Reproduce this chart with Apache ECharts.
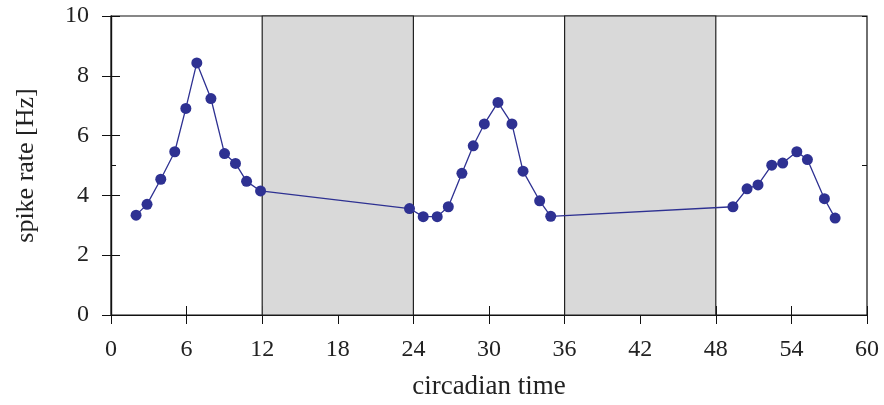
<!DOCTYPE html>
<html>
<head>
<meta charset="utf-8">
<script src="https://cdn.jsdelivr.net/npm/echarts@6/dist/echarts.min.js"></script>
<style>html,body{margin:0;padding:0;background:#fff;}#c{width:884px;height:405px;}</style>
</head>
<body>
<div id="c"></div>
<script>
// circadian time (hours) and spike rate (Hz)
var hours = [1.99, 2.86, 3.95, 5.06, 5.94, 6.81, 7.93, 9.01, 9.88, 10.76, 11.87,
             23.69, 24.78, 25.89, 26.77, 27.85, 28.75, 29.63, 30.71, 31.82, 32.70, 34.02, 34.90,
             49.36, 50.48, 51.35, 52.44, 53.31, 54.43, 55.27, 56.62, 57.47];
var rates = [3.34, 3.70, 4.54, 5.46, 6.91, 8.43, 7.24, 5.40, 5.07, 4.47, 4.15,
             3.56, 3.29, 3.29, 3.62, 4.74, 5.66, 6.39, 7.11, 6.39, 4.81, 3.82, 3.30,
             3.62, 4.22, 4.35, 5.01, 5.08, 5.46, 5.20, 3.89, 3.24];
// dark (night) intervals
var nightStarts = [12, 36];
var nightEnds = [24, 48];
var xTicks = [0, 6, 12, 18, 24, 30, 36, 42, 48, 54, 60];
var yTicks = [0, 2, 4, 6, 8, 10];

var points = hours.map(function (h, i) { return [h, rates[i]]; });
var nights = nightStarts.map(function (s, i) { return [{ xAxis: s }, { xAxis: nightEnds[i] }]; });

var font = 'Liberation Serif';
var chart = echarts.init(document.getElementById('c'), null, { renderer: 'canvas' });
chart.setOption({
  backgroundColor: '#fff',
  animation: false,
  grid: { left: 111, right: 17, top: 16, bottom: 87, show: true, borderColor: '#111', borderWidth: 1.2, backgroundColor: 'transparent' },
  xAxis: [{
    type: 'value', min: xTicks[0], max: xTicks[xTicks.length - 1], interval: 6,
    name: 'circadian time', nameLocation: 'middle', nameGap: 58,
    nameTextStyle: { fontFamily: font, fontSize: 27, color: '#222' },
    axisLine: { show: true, lineStyle: { color: '#111', width: 1.2 } },
    axisTick: { show: true, inside: true, length: 9, lineStyle: { color: '#111' } },
    axisLabel: { fontFamily: font, fontSize: 24, color: '#222', margin: 23 },
    splitLine: { show: false }
  }, {
    type: 'value', position: 'top', min: 0, max: 60, interval: 6,
    axisLine: { show: true, lineStyle: { color: '#111', width: 1.2 } },
    axisTick: { show: true, inside: true, length: 9, lineStyle: { color: '#111' } },
    axisLabel: { show: false }, splitLine: { show: false }
  }],
  yAxis: [{
    type: 'value', min: yTicks[0], max: yTicks[yTicks.length - 1], interval: 2,
    name: 'spike rate [Hz]', nameLocation: 'middle', nameGap: 72, nameRotate: 90,
    nameTextStyle: { fontFamily: font, fontSize: 26, color: '#222' },
    axisLine: { show: true, lineStyle: { color: '#111', width: 1.2 } },
    axisTick: { show: true, inside: true, length: 9, lineStyle: { color: '#111' } },
    axisLabel: { fontFamily: font, fontSize: 24, color: '#222', margin: 22 },
    splitLine: { show: false }
  }, {
    type: 'value', position: 'right', min: 0, max: 10, interval: 2,
    axisLine: { show: true, lineStyle: { color: '#111', width: 1.2 } },
    axisTick: { show: true, inside: true, length: 9, lineStyle: { color: '#111' } },
    axisLabel: { show: false }, splitLine: { show: false }
  }, {
    type: 'value', position: 'left', min: 0, max: 10, interval: 5,
    axisLine: { show: false },
    axisTick: { show: true, inside: true, length: 5, lineStyle: { color: '#111' } },
    axisLabel: { show: false }, splitLine: { show: false }
  }, {
    type: 'value', position: 'right', min: 0, max: 10, interval: 5,
    axisLine: { show: false },
    axisTick: { show: true, inside: true, length: 5, lineStyle: { color: '#111' } },
    axisLabel: { show: false }, splitLine: { show: false }
  }],
  series: [{
    type: 'line',
    data: points,
    xAxisIndex: 0, yAxisIndex: 0,
    symbol: 'circle', symbolSize: 11,
    lineStyle: { color: '#2e3192', width: 1.3 },
    itemStyle: { color: '#2e3192' },
    z: 5,
    markArea: {
      silent: true,
      itemStyle: { color: '#d9d9d9', borderColor: '#222', borderWidth: 1.2 },
      data: nights
    }
  }]
});
</script>
</body>
</html>
